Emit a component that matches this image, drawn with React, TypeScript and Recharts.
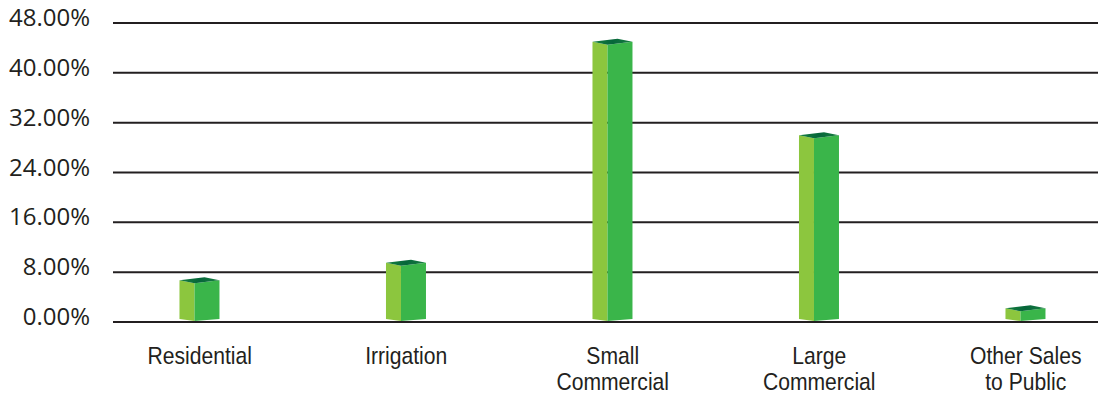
import React from 'react';
import { BarChart, Bar, XAxis, YAxis, CartesianGrid } from 'recharts';

// share of sales by customer class, in percent
const categories = ['Residential', 'Irrigation', 'Small\nCommercial', 'Large\nCommercial', 'Other Sales\nto Public'];
const shares = [6.7, 9.5, 45.0, 30.0, 2.2];
const yTicks = [0, 8, 16, 24, 32, 40, 48];

const data = categories.map((name, idx) => ({ idx, name, share: shares[idx] }));

const TEXT = '#231f20';

// box-shaped bar: light left face, darker right face, dark top
function Box3D(props: any) {
  const { x, y, width, height } = props;
  if (width == null || height == null) return null;
  const side = width * 0.375;
  const mid = x + side;
  const right = x + width;
  const bottom = y + height;
  const d = 3;
  const backX = x + width - side;
  return (
    <g>
      <polygon points={`${x},${y} ${mid},${y + d} ${mid},${bottom - 1} ${x},${bottom - 3}`} fill="#8cc63e" />
      <polygon points={`${mid},${y + d} ${right},${y} ${right},${bottom - 3} ${mid},${bottom - 1}`} fill="#3ab54a" />
      <polygon points={`${x},${y} ${mid},${y + d} ${right},${y} ${backX},${y - d}`} fill="url(#boxTop)" />
    </g>
  );
}

// condensed two-line category labels
function CategoryTick(props: any) {
  const { x, y, payload } = props;
  const lines = String(categories[payload.value] ?? '').split('\n');
  return (
    <g transform={`translate(${x},${y + 42}) scale(0.88,1)`}>
      <text
        x={0}
        y={0}
        textAnchor="middle"
        fill={TEXT}
        style={{ fontFamily: '"Liberation Sans", Arial, sans-serif', fontSize: 24 }}
      >
        {lines.map((line, i) => (
          <tspan key={i} x={0} dy={i === 0 ? 0 : 26}>
            {line}
          </tspan>
        ))}
      </text>
    </g>
  );
}

function PercentTick(props: any) {
  const { x, y, payload } = props;
  return (
    <text
      x={x}
      y={y + 3}
      textAnchor="end"
      fill={TEXT}
      style={{ fontFamily: '"Open Sans", sans-serif', fontSize: 24 }}
    >
      {`${Number(payload.value).toFixed(2)}%`}
    </text>
  );
}

export default function App() {
  return (
    <div style={{ position: 'absolute', left: 0, top: 0, width: 1106, height: 396, background: '#fff' }}>
      <BarChart width={1106} height={396} data={data} margin={{ top: 23, right: 8, bottom: 0, left: 0 }}>
        <defs>
          <linearGradient id="boxTop" x1="0" y1="0" x2="1" y2="0">
            <stop offset="0%" stopColor="#157f3f" />
            <stop offset="50%" stopColor="#06663a" />
            <stop offset="100%" stopColor="#187d41" />
          </linearGradient>
        </defs>
        <CartesianGrid vertical={false} stroke="#231f20" strokeWidth={2} />
        <XAxis
          type="number"
          dataKey="idx"
          domain={[-0.42, 4.35]}
          ticks={[0, 1, 2, 3, 4]}
          axisLine={false}
          tickLine={false}
          tickSize={0}
          tickMargin={0}
          height={74}
          interval={0}
          tick={<CategoryTick />}
        />
        <YAxis
          type="number"
          domain={[0, 48]}
          ticks={yTicks}
          axisLine={false}
          tickLine={false}
          tickSize={0}
          tickMargin={23}
          width={113}
          interval={0}
          tick={<PercentTick />}
        />
        <Bar dataKey="share" barSize={40} shape={<Box3D />} isAnimationActive={false} />
      </BarChart>
    </div>
  );
}
